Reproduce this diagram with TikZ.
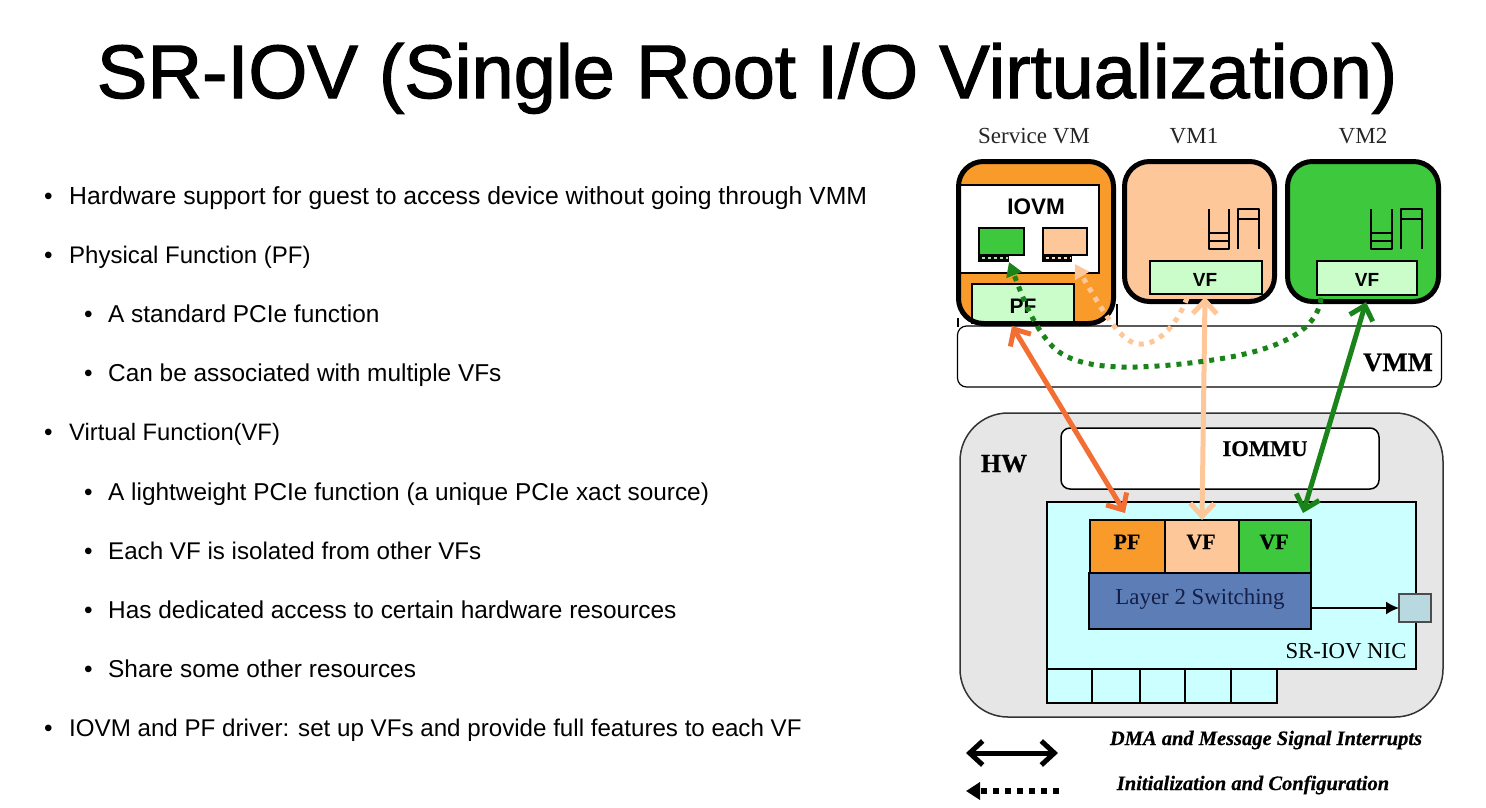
\documentclass[tikz,border=0pt]{standalone}
\usepackage{fontspec}
\setmainfont{Liberation Sans}
\newfontfamily\serifx[BoldItalicFeatures={FakeBold=0.5},BoldFeatures={FakeBold=0.3}]{Liberation Serif}
\newfontfamily\titlefont[FakeBold=1.6]{Liberation Sans}
\usetikzlibrary{arrows.meta}
\definecolor{cOrange}{HTML}{F99B2A}
\definecolor{cPeach}{HTML}{FDC79A}
\definecolor{cGreen}{HTML}{3EC83E}
\definecolor{cDark}{HTML}{1A841A}
\definecolor{cArrow}{HTML}{F26E32}
\definecolor{cMint}{HTML}{CBFDCB}
\definecolor{cCyan}{HTML}{CCFFFF}
\definecolor{cBlue}{HTML}{5C7DB6}
\definecolor{cPort}{HTML}{B9D9E0}
\definecolor{cGrey}{HTML}{E6E6E6}
\definecolor{cNavy}{HTML}{141E46}
\newcommand{\bx}[6]{%
  \pgfmathsetmacro{\bw}{#4-#2}\pgfmathsetmacro{\bh}{#5-#3}%
  \node[#6,anchor=north west,minimum width=\bw pt,minimum height=\bh pt,inner sep=0pt,outer sep=0pt] (#1) at (#2,#3) {};}
\tikzset{
  x=1pt,y=-1pt,
  bline/.style={draw=black,line width=1.8pt},
  vmfill/.style={rounded corners=25pt},
  vmline/.style={draw=black,line width=5pt,rounded corners=25pt},
  title/.style={anchor=base,font=\titlefont\fontsize{75.8}{80}\selectfont},
  bullet/.style={anchor=base west,font=\fontsize{24.4}{26}\selectfont,inner sep=0pt},
  vmname/.style={anchor=base,font=\serifx\fontsize{23}{24}\selectfont,inner sep=0pt,text=black!85},
  sanslabel/.style={anchor=base,font=\bfseries\fontsize{19}{22}\selectfont,inner sep=0pt},
  seriflabel/.style={anchor=base,font=\serifx\bfseries\fontsize{22}{24}\selectfont,inner sep=0pt},
  legend/.style={anchor=base,font=\serifx\bfseries\itshape\fontsize{20.5}{24}\selectfont,inner sep=0pt},
  barbhead/.tip={Straight Barb[length=13pt,width=24pt,line width=5pt]},
  bigarrow/.style={line width=5pt,{barbhead}-{barbhead}},
  dotted arrow/.style={line width=5pt,dash pattern=on 5pt off 6pt,-{Triangle[length=14pt,width=16pt]}},
  rail/.style={draw=black,line width=1.1pt},
}
\begin{document}
\begin{tikzpicture}[x=1pt,y=-1pt]
\useasboundingbox[fill=white] (0,0) rectangle (1486,807);
% title and text
\node[title] (ttl) at (747,98) {SR-IOV (Single Root I/O Virtualization)};
\node[bullet] (b1m) at (44,204) {•}; \node[bullet,font=\fontsize{24.75}{26}\selectfont] (b1) at (69,204) {Hardware support for guest to access device without going through VMM};
\node[bullet] (b2m) at (44,263) {•}; \node[bullet,font=\fontsize{24}{26}\selectfont] (b2) at (69,263) {Physical Function (PF)};
\node[bullet] (b3m) at (84,322) {•}; \node[bullet] (b3) at (108,322) {A standard PCIe function};
\node[bullet] (b4m) at (84,381) {•}; \node[bullet] (b4) at (108,381) {Can be associated with multiple VFs};
\node[bullet] (b5m) at (44,440) {•}; \node[bullet,font=\fontsize{23.75}{26}\selectfont] (b5) at (69,440) {Virtual Function(VF)};
\node[bullet] (b6m) at (84,500) {•}; \node[bullet] (b6) at (108,500) {A lightweight PCIe function (a unique PCIe xact source)};
\node[bullet] (b7m) at (84,559) {•}; \node[bullet,font=\fontsize{24.15}{26}\selectfont] (b7) at (108,559) {Each VF is isolated from other VFs};
\node[bullet] (b8m) at (84,618) {•}; \node[bullet] (b8) at (108,618) {Has dedicated access to certain hardware resources};
\node[bullet] (b9m) at (84,677) {•}; \node[bullet] (b9) at (108,677) {Share some other resources};
\node[bullet] (b10m) at (44,736) {•}; \node[bullet,font=\fontsize{24.15}{26}\selectfont] (b10) at (69,736) {IOVM and PF driver: set up VFs and provide full features to each VF};
% VM names
\node[vmname] (nsvc) at (1034,143) {Service VM};
\node[vmname] (nvm1) at (1194,143) {VM1};
\node[vmname] (nvm2) at (1363,143) {VM2};
% VMM
\bx{vmm}{957.5}{326}{1441.5}{387}{draw=black,line width=1.2pt,fill=white,rounded corners=9pt}
\node[anchor=base,font=\serifx\bfseries\fontsize{26.7}{30}\selectfont,inner sep=0pt] (tvmm) at (1398,371) {VMM};
\draw[rail] (958,318) -- (958,327);
\draw[rail] (1117,304) -- (1117,327);
% service VM
\bx{svmf}{958.5}{161.5}{1113.5}{323.5}{fill=cOrange,vmfill}
\bx{iovm}{960.5}{185}{1099}{273}{draw=black,line width=1.5pt,fill=white}
\node[sanslabel,font=\bfseries\fontsize{22.5}{24}\selectfont] (tiovm) at (1036,214) {IOVM};
\bx{dg}{979}{228}{1024}{255}{draw=black,line width=1.7pt,fill=cGreen}
\bx{dgs}{979}{255}{1008}{261}{draw=black,line width=1.5pt,fill=black}
\bx{dp}{1043}{228}{1087}{255}{draw=black,line width=1.7pt,fill=cPeach}
\bx{dps}{1043}{255}{1071}{261}{draw=black,line width=1.5pt,fill=black}
\draw[line width=2.6pt,cGreen!45!white,dash pattern=on 3pt off 3pt] (dgs.west) ++(2.5,0) -- (dgs.east);
\draw[line width=2.6pt,cPeach!70!white,dash pattern=on 3pt off 3pt] (dps.west) ++(2.5,0) -- (dps.east);
\bx{pfv}{972}{284}{1074}{323}{draw=black,line width=1.7pt,fill=cMint}
\node[sanslabel,font=\bfseries\fontsize{21}{24}\selectfont] (tpfv) at (1023,313) {PF};
\bx{svm}{958.5}{161.5}{1113.5}{323.5}{vmline}
% VM1
\bx{vm1}{1124.5}{161.5}{1274.5}{301.5}{vmline,fill=cPeach}
\bx{vf1}{1150}{261}{1262}{294}{draw=black,line width=1.7pt,fill=cMint}
\node[sanslabel] (tvf1) at (1205,286) {VF};
% VM2
\bx{vm2}{1287.5}{161.5}{1438.5}{301.5}{vmline,fill=cGreen}
\bx{vf2}{1317}{261}{1417}{295}{draw=black,line width=1.7pt,fill=cMint}
\node[sanslabel] (tvf2) at (1367,286) {VF};
% queue icons
\foreach \dx/\nm in {0/a,162.5/b}{
  \begin{scope}[xshift=\dx pt,line width=2pt,line join=round]
    \draw (1208.5,209) -- (1208.5,249) -- (1229,249) -- (1229,209);
    \draw (1208.5,233) -- (1229,233) (1208.5,241) -- (1229,241);
    \draw (1238,249) -- (1238,209) -- (1259,209) -- (1259,249);
    \draw (1238,219) -- (1259,219);
  \end{scope}
}
% HW
\bx{hw}{960}{413}{1443}{717}{draw=black!80,line width=1.5pt,fill=cGrey,rounded corners=48pt}
\node[anchor=base,font=\serifx\bfseries\fontsize{26}{28}\selectfont,inner sep=0pt] (thw) at (1004,472) {HW};
\bx{iommu}{1061}{428}{1379}{489}{draw=black,line width=1.5pt,fill=white,rounded corners=9pt}
\node[anchor=base,font=\serifx\bfseries\fontsize{22.5}{24}\selectfont,inner sep=0pt] (tiommu) at (1265,456) {IOMMU};
\bx{nic}{1047}{502}{1416}{669}{draw=black,line width=1.8pt,fill=cCyan}
\node[anchor=base,font=\serifx\fontsize{22.8}{24}\selectfont,inner sep=0pt] (tnic) at (1346,658) {SR-IOV NIC};
\bx{nicpf}{1090}{520}{1165}{573}{bline,fill=cOrange}
\bx{nicvf1}{1165}{520}{1239}{573}{bline,fill=cPeach}
\bx{nicvf2}{1239}{520}{1311}{573}{bline,fill=cGreen}
\node[seriflabel] (tpf) at (1127,549) {PF};
\node[seriflabel] (tv1) at (1201,549) {VF};
\node[seriflabel] (tv2) at (1274,549) {VF};
\bx{l2}{1089}{573}{1311}{629}{bline,fill=cBlue}
\node[anchor=base,font=\serifx\fontsize{22.9}{26}\selectfont,inner sep=0pt,text=cNavy] (tl2) at (1200,604) {Layer 2 Switching};
\bx{port}{1399}{594}{1431}{622}{draw=black!70,line width=1.2pt,fill=cPort}
\coordinate (portfrom) at (1311,608);
\coordinate (portto) at (1399,608);
\draw[line width=1.7pt,-{Latex[length=13pt,width=13pt]}] (portfrom) -- (portto);
\bx{c1}{1047}{669}{1092}{703}{bline,fill=cCyan}
\bx{c2}{1092}{669}{1140}{703}{bline,fill=cCyan}
\bx{c3}{1140}{669}{1185}{703}{bline,fill=cCyan}
\bx{c4}{1185}{669}{1231}{703}{bline,fill=cCyan}
\bx{c5}{1231}{669}{1277}{703}{bline,fill=cCyan}
% connectors
\coordinate (oa) at (1012,326); \coordinate (ob) at (1125,513);
\coordinate (pa) at (1205,297); \coordinate (pb) at (1202,520);
\coordinate (ga) at (1366,302); \coordinate (gb) at (1303,513);
\draw[bigarrow,cArrow] (oa) -- (ob);
\draw[bigarrow,cPeach] (pa) -- (pb);
\draw[bigarrow,cDark] (ga) -- (gb);
\coordinate (ds1) at (1321,298); \coordinate (ds2) at (1190,363); \coordinate (ds3) at (1053,347); \coordinate (ds4) at (1009,262);
\draw[dotted arrow,cDark] (ds1) .. controls (1316,345) and (1240,357) .. (ds2)
   .. controls (1120,371) and (1075,368) .. (ds3) .. controls (1032,325) and (1022,295) .. (ds4);
\coordinate (ps1) at (1187,298); \coordinate (ps2) at (1140,344); \coordinate (ps3) at (1075,264);
\draw[dotted arrow,cPeach] (ps1) .. controls (1175,330) and (1155,345) .. (ps2)
   .. controls (1122,344) and (1105,315) .. (ps3);
% legend
\coordinate (l1a) at (966,753); \coordinate (l1b) at (1058,753);
\coordinate (l2a) at (1059,791); \coordinate (l2b) at (966,791);
\draw[line width=5pt,{barbhead}-{barbhead}] (l1a) -- (l1b);
\draw[line width=5.5pt,dash pattern=on 6.5pt off 5.5pt,-{Triangle[length=14pt,width=17pt]}] (l2a) -- (l2b);
\node[legend] (tdma) at (1266,745) {DMA and Message Signal Interrupts};
\node[legend] (tinit) at (1253,790) {Initialization and Configuration};
\end{tikzpicture}
\end{document}
